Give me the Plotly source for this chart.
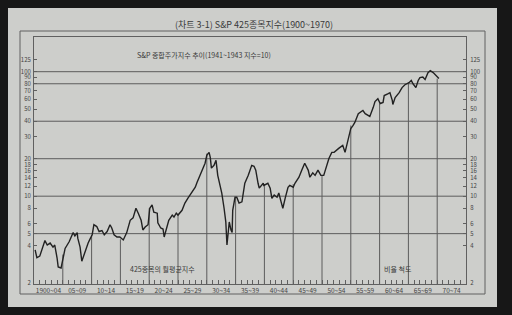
import math
import plotly.graph_objects as go

# ---- data ----
years = [1900.2, 1900.5, 1901.0, 1901.9, 1902.3, 1902.8, 1903.3, 1903.6, 1904.0, 1904.2,
         1904.7, 1904.9, 1905.4, 1906.1, 1906.8, 1907.1, 1907.5, 1907.6, 1908.0, 1908.3,
         1908.5, 1908.9, 1909.4, 1909.7, 1910.1, 1910.4, 1910.9, 1911.3, 1911.8, 1912.2,
         1912.7, 1913.2, 1913.5, 1913.9, 1914.4, 1914.9, 1915.5, 1916.1, 1916.7, 1917.2,
         1917.7, 1918.1, 1918.6, 1918.9, 1919.3, 1919.8, 1920.1, 1920.5, 1920.8, 1921.4,
         1921.5, 1922.0, 1922.4, 1922.6, 1923.1, 1923.4, 1924.0, 1924.3, 1924.7, 1925.0,
         1925.7, 1926.2, 1926.7, 1927.1, 1927.4, 1928.0, 1928.3, 1928.8, 1929.3, 1929.7,
         1930.0, 1930.4, 1930.6, 1930.8, 1931.25, 1931.6, 1931.9, 1932.3, 1932.6, 1933.0,
         1933.3, 1933.5, 1933.9, 1934.2, 1934.4, 1934.5, 1934.9, 1935.2, 1935.6, 1936.1,
         1936.6, 1937.2, 1937.8, 1938.2, 1938.5, 1938.9, 1939.1, 1939.8, 1939.9, 1940.6,
         1941.0, 1941.3, 1941.7, 1942.2, 1942.5, 1942.9, 1943.2, 1943.6, 1944.1, 1944.4,
         1945.0, 1945.3, 1946.0, 1946.5, 1947.0, 1947.6, 1947.9, 1948.4, 1948.8, 1949.3,
         1949.8, 1950.3, 1950.7, 1951.2, 1951.7, 1952.1, 1952.9, 1953.6, 1954.0, 1954.5,
         1955.0, 1955.4, 1955.7, 1956.3, 1956.6, 1957.1, 1957.5, 1958.0, 1958.3, 1958.9,
         1959.2, 1959.7, 1960.1, 1960.6, 1960.8, 1961.5, 1961.8, 1962.2, 1962.3, 1962.7,
         1963.4, 1963.9, 1964.4, 1965.1, 1965.5, 1965.8, 1966.3, 1966.7, 1967.0, 1967.5,
         1967.9, 1968.4, 1968.8, 1969.3, 1969.8, 1970.3]
index_values = [3.7, 3.2, 3.3, 4.4, 4.05, 4.2, 3.9, 4.05, 3.2, 2.7,
                2.65, 2.9, 3.8, 4.3, 5.1, 4.8, 5.1, 4.6, 3.9, 3.0,
                3.2, 3.7, 4.2, 4.5, 4.9, 5.9, 5.7, 5.2, 5.3, 4.9,
                5.2, 5.9, 5.55, 4.9, 4.7, 4.7, 4.45, 5.1, 6.4, 6.7,
                8.0, 7.3, 6.4, 5.35, 5.65, 5.9, 8.0, 8.5, 7.45, 7.3,
                6.1, 5.55, 5.45, 4.7, 5.55, 6.4, 7.05, 6.8, 7.3, 7.05,
                7.7, 8.8, 9.6, 10.2, 10.6, 11.8, 12.9, 14.7, 16.2, 18.4,
                21.3, 22.5, 20.5, 16.8, 17.7, 19.4, 14.7, 12.5, 10.6, 8.0,
                6.2, 4.05, 6.2, 5.35, 5.1, 7.7, 9.8, 9.8, 8.8, 9.0,
                12.7, 14.7, 17.7, 17.4, 16.2, 12.7, 11.6, 12.7, 12.2, 12.7,
                11.6, 9.6, 10.2, 9.8, 10.6, 9.0, 8.0, 9.6, 11.8, 12.2,
                11.8, 12.7, 14.2, 16.2, 18.4, 16.2, 14.2, 15.4, 14.7, 16.2,
                14.7, 14.7, 17.1, 20.1, 22.5, 22.5, 24.2, 25.6, 22.5, 28.0,
                35.0, 37.0, 39.1, 46.0, 47.0, 48.8, 46.0, 44.5, 43.7, 51.7,
                57.5, 60.7, 55.5, 56.6, 64.3, 66.6, 67.8, 58.9, 54.5, 62.0,
                67.8, 74.5, 78.6, 81.6, 85.0, 80.0, 74.5, 85.0, 89.6, 90.7,
                86.5, 98.3, 101.8, 98.3, 92.9, 88.3]

period_starts = [1900, 1905, 1910, 1915, 1920, 1925, 1930, 1935, 1940, 1945,
                 1950, 1955, 1960, 1965, 1970]
period_labels = ["1900~04", "05~09", "10~14", "15~19", "20~24", "25~29", "30~34",
                 "35~39", "40~44", "45~49", "50~54", "55~59", "60~64", "65~69", "70~74"]

drop_years = [1905, 1910, 1915, 1920, 1925, 1930, 1935, 1940, 1945, 1950, 1955, 1960, 1965, 1970]
drop_values = [3.4, 4.9, 4.5, 8.0, 7.1, 22.0, 9.8, 12.5, 12.5, 14.7, 37.0, 55.5, 82.0, 88.0]

grid_levels = [5, 10, 20, 40, 80, 100]
y_tick_values = [2, 4, 5, 6, 8, 10, 12, 14, 16, 18, 20, 30, 40, 50, 60, 70, 80, 90, 100, 125]

title_text = "(차트 3-1) S&P 425종목지수(1900~1970)"
subtitle_text = "S&P 종합주가지수 추이(1941~1943 지수=10)"
series_note = "425종목의 월평균지수"
scale_note = "비율 척도"

# ---- layout geometry ----
W, H = 512, 315
L, R, T, B = 34, 46, 37, 31
PW, PH = W - L - R, H - T - B
Y_MIN, Y_MAX = 1.97, 190
X_MIN, X_MAX = 1900, 1975


def fx(px):
    return (px - L) / PW


def fy(py):
    return (H - B - py) / PH


FONT = "Noto Sans CJK KR, Noto Sans, sans-serif"
INK = "#3a3a3a"
PAPER = "#cdcecb"
GRID = "#5c5c5c"
AXC = "#606060"

fig = go.Figure()
fig.add_trace(go.Scatter(x=years, y=index_values, mode="lines",
                         line=dict(color="#222222", width=1.4), hoverinfo="skip",
                         showlegend=False))
fig.add_trace(go.Scatter(x=[], y=[], xaxis="x2", yaxis="y2", showlegend=False, hoverinfo="skip"))

mids = [s + 2.5 for s in period_starts]
log_range = [math.log10(Y_MIN), math.log10(Y_MAX)]
ytext = [str(v) for v in y_tick_values]

shapes = [
    # the photographed page
    dict(type="rect", xref="paper", yref="paper", x0=fx(8), x1=fx(497), y0=fy(307), y1=fy(8),
         fillcolor=PAPER, line=dict(width=0), layer="below"),
    # outer printed frame
    dict(type="rect", xref="paper", yref="paper", x0=fx(20), x1=fx(485), y0=fy(294), y1=fy(31),
         fillcolor="rgba(0,0,0,0)", line=dict(color=AXC, width=1), layer="below"),
]
for v in grid_levels:
    shapes.append(dict(type="line", xref="paper", yref="y", x0=0, x1=1, y0=v, y1=v,
                       line=dict(color=GRID, width=1), layer="below"))
for yr, v in zip(drop_years, drop_values):
    shapes.append(dict(type="line", xref="x", yref="y", x0=yr, x1=yr, y0=Y_MIN, y1=v,
                       line=dict(color=GRID, width=1), layer="below"))

annotations = [
    dict(text=title_text, xref="paper", yref="paper", x=fx(254), y=fy(25),
         xanchor="center", yanchor="middle", showarrow=False,
         font=dict(family=FONT, size=9, color=INK)),
    dict(text=subtitle_text, xref="paper", yref="paper", x=fx(135), y=fy(55),
         xanchor="left", yanchor="middle", showarrow=False,
         font=dict(family=FONT, size=7, color=INK)),
    dict(text=series_note, xref="paper", yref="paper", x=fx(128), y=fy(269),
         xanchor="left", yanchor="middle", showarrow=False,
         font=dict(family=FONT, size=7, color=INK)),
    dict(text=scale_note, xref="paper", yref="paper", x=fx(382), y=fy(269),
         xanchor="left", yanchor="middle", showarrow=False,
         font=dict(family=FONT, size=7, color=INK)),
]

axis_font = dict(family=FONT, size=6, color="#454545")

fig.update_layout(
    width=W, height=H, margin=dict(l=L, r=R, t=T, b=B),
    paper_bgcolor="#171717", plot_bgcolor="rgba(0,0,0,0)",
    shapes=shapes, annotations=annotations, showlegend=False,
    # year ticks (inside, every year) and frame
    xaxis=dict(range=[X_MIN, X_MAX], tickmode="linear", tick0=1900, dtick=1,
               ticks="inside", ticklen=4, tickcolor=AXC, showticklabels=False,
               showgrid=False, zeroline=False, showline=True, linecolor=AXC,
               linewidth=1, mirror=True),
    # period labels
    xaxis2=dict(range=[X_MIN, X_MAX], overlaying="x", side="bottom", anchor="y",
                tickmode="array", tickvals=mids, ticktext=period_labels, ticks="",
                showgrid=False, zeroline=False, showline=False,
                tickfont=dict(family=FONT, size=6.5, color="#454545"), ticklabelstandoff=1),
    yaxis=dict(type="log", range=log_range, tickmode="array", tickvals=y_tick_values,
               ticktext=ytext, ticks="inside", ticklen=3, tickcolor=AXC,
               showgrid=False, zeroline=False, showline=True, linecolor=AXC,
               linewidth=1, tickfont=axis_font, ticklabelstandoff=1),
    yaxis2=dict(type="log", range=log_range, overlaying="y", side="right", anchor="x",
                tickmode="array", tickvals=y_tick_values, ticktext=ytext, ticks="inside",
                ticklen=3, tickcolor=AXC, showgrid=False, zeroline=False, showline=True,
                linecolor=AXC, linewidth=1, tickfont=axis_font, ticklabelstandoff=2),
)

fig.write_html("out.html")
